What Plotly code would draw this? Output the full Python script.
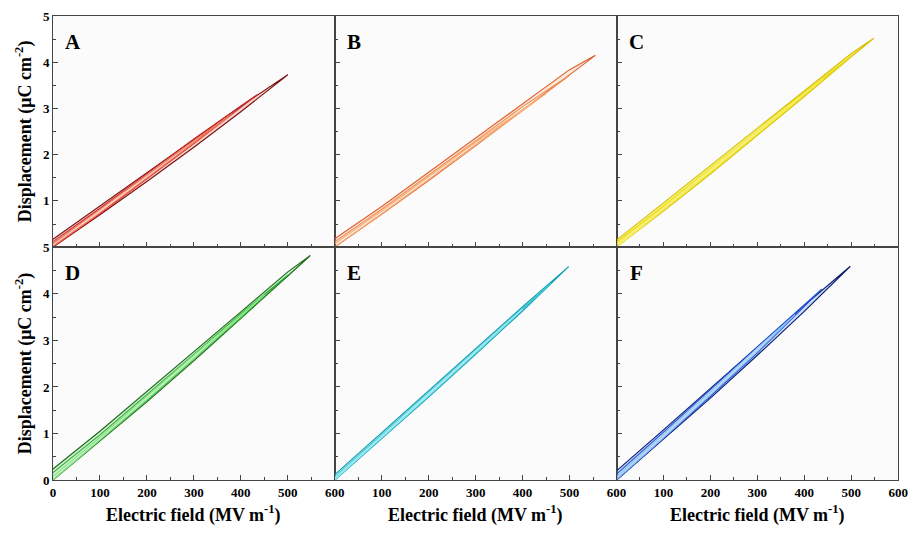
import plotly.graph_objects as go

# D-E loops: charge branch up to the peak field, then the discharge branch back to 0.
# Field in MV/m, displacement in uC/cm^2. Three loops per sample, outer to inner.
A1_E = [0, 100, 200, 300, 400, 500, 400, 300, 200, 100, 0]
A1_D = [0.00, 0.70, 1.42, 2.16, 2.93, 3.73, 3.05, 2.33, 1.60, 0.88, 0.17]
A2_E = [0, 100, 200, 300, 435, 300, 200, 100, 0]
A2_D = [0.00, 0.72, 1.48, 2.24, 3.30, 2.34, 1.59, 0.84, 0.12]
A3_E = [0, 100, 200, 300, 380, 300, 200, 100, 0]
A3_D = [0.02, 0.74, 1.49, 2.25, 2.87, 2.30, 1.56, 0.81, 0.08]

B1_E = [0, 100, 200, 300, 400, 500, 555, 500, 400, 300, 200, 100, 0]
B1_D = [0.00, 0.71, 1.44, 2.19, 2.96, 3.74, 4.15, 3.84, 3.10, 2.36, 1.61, 0.88, 0.18]
B2_E = [0, 100, 200, 300, 400, 500, 400, 300, 200, 100, 0]
B2_D = [0.00, 0.72, 1.46, 2.21, 2.97, 3.72, 3.04, 2.30, 1.55, 0.82, 0.12]
B3_E = [0, 100, 200, 300, 450, 300, 200, 100, 0]
B3_D = [0.00, 0.72, 1.46, 2.20, 3.32, 2.27, 1.52, 0.78, 0.08]

C1_E = [0, 100, 200, 300, 400, 500, 548, 500, 400, 300, 200, 100, 0]
C1_D = [0.00, 0.78, 1.58, 2.41, 3.26, 4.12, 4.52, 4.19, 3.38, 2.57, 1.76, 0.95, 0.15]
C2_E = [0, 100, 200, 300, 400, 500, 400, 300, 200, 100, 0]
C2_D = [0.00, 0.80, 1.61, 2.44, 3.28, 4.13, 3.34, 2.52, 1.70, 0.89, 0.10]
C3_E = [0, 100, 200, 300, 440, 300, 200, 100, 0]
C3_D = [0.00, 0.81, 1.63, 2.46, 3.64, 2.52, 1.68, 0.86, 0.06]

D1_E = [0, 100, 200, 300, 400, 500, 548, 500, 400, 300, 200, 100, 0]
D1_D = [0.00, 0.83, 1.68, 2.56, 3.46, 4.38, 4.82, 4.47, 3.61, 2.75, 1.89, 1.05, 0.24]
D2_E = [0, 100, 200, 300, 400, 500, 400, 300, 200, 100, 0]
D2_D = [0.00, 0.85, 1.71, 2.59, 3.48, 4.40, 3.57, 2.70, 1.83, 0.97, 0.16]
D3_E = [0, 100, 200, 300, 450, 300, 200, 100, 0]
D3_D = [0.00, 0.86, 1.73, 2.61, 3.98, 2.68, 1.79, 0.92, 0.08]

E1_E = [0, 100, 200, 300, 400, 498, 400, 300, 200, 100, 0]
E1_D = [0.00, 0.88, 1.78, 2.70, 3.63, 4.58, 3.72, 2.82, 1.92, 1.02, 0.12]
E2_E = [0, 100, 200, 300, 460, 300, 200, 100, 0]
E2_D = [0.00, 0.89, 1.80, 2.72, 4.22, 2.79, 1.88, 0.97, 0.07]
E3_E = [0, 100, 200, 300, 400, 300, 200, 100, 0]
E3_D = [0.02, 0.91, 1.82, 2.74, 3.67, 2.78, 1.86, 0.95, 0.05]

F1_E = [0, 100, 200, 300, 400, 498, 400, 300, 200, 100, 0]
F1_D = [0.00, 0.87, 1.76, 2.68, 3.62, 4.59, 3.75, 2.86, 1.96, 1.08, 0.20]
F2_E = [0, 100, 200, 300, 437, 300, 200, 100, 0]
F2_D = [0.00, 0.89, 1.80, 2.73, 4.10, 2.86, 1.94, 1.03, 0.13]
F3_E = [0, 100, 200, 300, 380, 300, 200, 100, 0]
F3_D = [0.02, 0.91, 1.83, 2.76, 3.55, 2.84, 1.90, 0.98, 0.07]

PANEL_LABELS = ["A", "B", "C", "D", "E", "F"]
X_TICKS = [0, 100, 200, 300, 400, 500, 600]
Y_TICKS = [0, 1, 2, 3, 4, 5]
X_TITLE = "Electric field (MV m<sup>-1</sup>)"
Y_TITLE = "Displacement (μC cm<sup>-2</sup>)"

panels = [
    [(A1_E, A1_D), (A2_E, A2_D), (A3_E, A3_D)],
    [(B1_E, B1_D), (B2_E, B2_D), (B3_E, B3_D)],
    [(C1_E, C1_D), (C2_E, C2_D), (C3_E, C3_D)],
    [(D1_E, D1_D), (D2_E, D2_D), (D3_E, D3_D)],
    [(E1_E, E1_D), (E2_E, E2_D), (E3_E, E3_D)],
    [(F1_E, F1_D), (F2_E, F2_D), (F3_E, F3_D)],
]
line_colors = [
    ["#7a1010", "#c62a2a", "#f0704f"],
    ["#e0602a", "#f08a4b", "#f6ae78"],
    ["#d6c000", "#ebdc10", "#f6ee60"],
    ["#1a6a1a", "#2ea82e", "#86e486"],
    ["#149fb2", "#38c6d4", "#9ce8ee"],
    ["#0b1a70", "#2050d8", "#8cc4f2"],
]
fill_colors = ["rgba(240,110,90,0.3)", "rgba(246,160,110,0.2)", "rgba(240,228,40,0.55)",
               "rgba(120,220,120,0.35)", "rgba(120,220,230,0.45)", "rgba(120,170,240,0.4)"]

W, H = 922, 539
x_edges = [50.7, 336.5, 622.3, 908.0]
y_rows = [(9.3, 247.0), (247.0, 486.7)]

def fx(px):
    return px / W

def fy(py):
    return 1 - py / H

FONT = "Liberation Serif"
AXIS_COLOR = "#444444"

fig = go.Figure()
layout = dict(
    width=W, height=H,
    margin=dict(l=0, r=0, t=0, b=0),
    paper_bgcolor="white",
    plot_bgcolor="#fbfbfb",
    showlegend=False,
)

for i, loops in enumerate(panels):
    n = i + 1
    row, col = divmod(i, 3)
    xa = "x" if n == 1 else f"x{n}"
    ya = "y" if n == 1 else f"y{n}"
    for j, (e, d) in enumerate(loops):
        fig.add_trace(go.Scatter(
            x=e, y=d, xaxis=xa, yaxis=ya, mode="lines",
            line=dict(color=line_colors[i][j], width=1.1),
            fill="toself" if j == 0 else None,
            fillcolor=fill_colors[i] if j == 0 else None,
            hoverinfo="skip",
        ))

    xdom = [fx(x_edges[col]), fx(x_edges[col + 1])]
    top, bot = y_rows[row]
    ydom = [fy(bot), fy(top)]

    if row == 1:
        xt = X_TICKS if col == 0 else X_TICKS[1:]
        show_x = True
    else:
        xt = X_TICKS
        show_x = False
    if col == 0:
        yt = Y_TICKS if row == 1 else Y_TICKS[1:]
        show_y = True
    else:
        yt = Y_TICKS
        show_y = False

    xkey = "xaxis" if n == 1 else f"xaxis{n}"
    ykey = "yaxis" if n == 1 else f"yaxis{n}"
    layout[xkey] = dict(
        domain=xdom, anchor=ya, range=[0, 600], tickmode="array", tickvals=xt,
        ticktext=[str(v) for v in xt], showticklabels=show_x,
        ticks="inside", ticklen=5, tickcolor=AXIS_COLOR,
        minor=dict(ticks="inside", ticklen=3, tick0=50, dtick=100, tickcolor=AXIS_COLOR),
        showline=True, mirror=True, linecolor=AXIS_COLOR, linewidth=1,
        showgrid=False, zeroline=False,
        tickfont=dict(family=FONT, size=13, color="black", weight="bold"),
    )
    layout[ykey] = dict(
        domain=ydom, anchor=xa, range=[0, 5], tickmode="array", tickvals=yt,
        ticktext=[str(v) for v in yt], showticklabels=show_y,
        ticks="inside", ticklen=5, tickcolor=AXIS_COLOR,
        minor=dict(ticks="inside", ticklen=3, tick0=0.5, dtick=1, tickcolor=AXIS_COLOR),
        showline=True, mirror=True, linecolor=AXIS_COLOR, linewidth=1,
        showgrid=False, zeroline=False,
        tickfont=dict(family=FONT, size=13, color="black", weight="bold"),
    )

fig.update_layout(**layout)

annotations = []
for i, lab in enumerate(PANEL_LABELS):
    row, col = divmod(i, 3)
    annotations.append(dict(
        text=lab, xref="paper", yref="paper",
        x=fx(x_edges[col] + 20), y=fy(y_rows[row][0] + 27),
        xanchor="center", yanchor="middle", showarrow=False,
        font=dict(family=FONT, size=21, color="black", weight="bold"),
    ))
for col in range(3):
    annotations.append(dict(
        text=X_TITLE, xref="paper", yref="paper",
        x=fx((x_edges[col] + x_edges[col + 1]) / 2), y=fy(521),
        xanchor="center", yanchor="middle", showarrow=False,
        font=dict(family=FONT, size=18, color="black", weight="bold"),
    ))
for row in range(2):
    annotations.append(dict(
        text=Y_TITLE, xref="paper", yref="paper", textangle=-90,
        x=fx(21), y=fy((y_rows[row][0] + y_rows[row][1]) / 2),
        xanchor="center", yanchor="middle", showarrow=False,
        font=dict(family=FONT, size=18, color="black", weight="bold"),
    ))
fig.update_layout(annotations=annotations)

fig.write_html("out.html")
